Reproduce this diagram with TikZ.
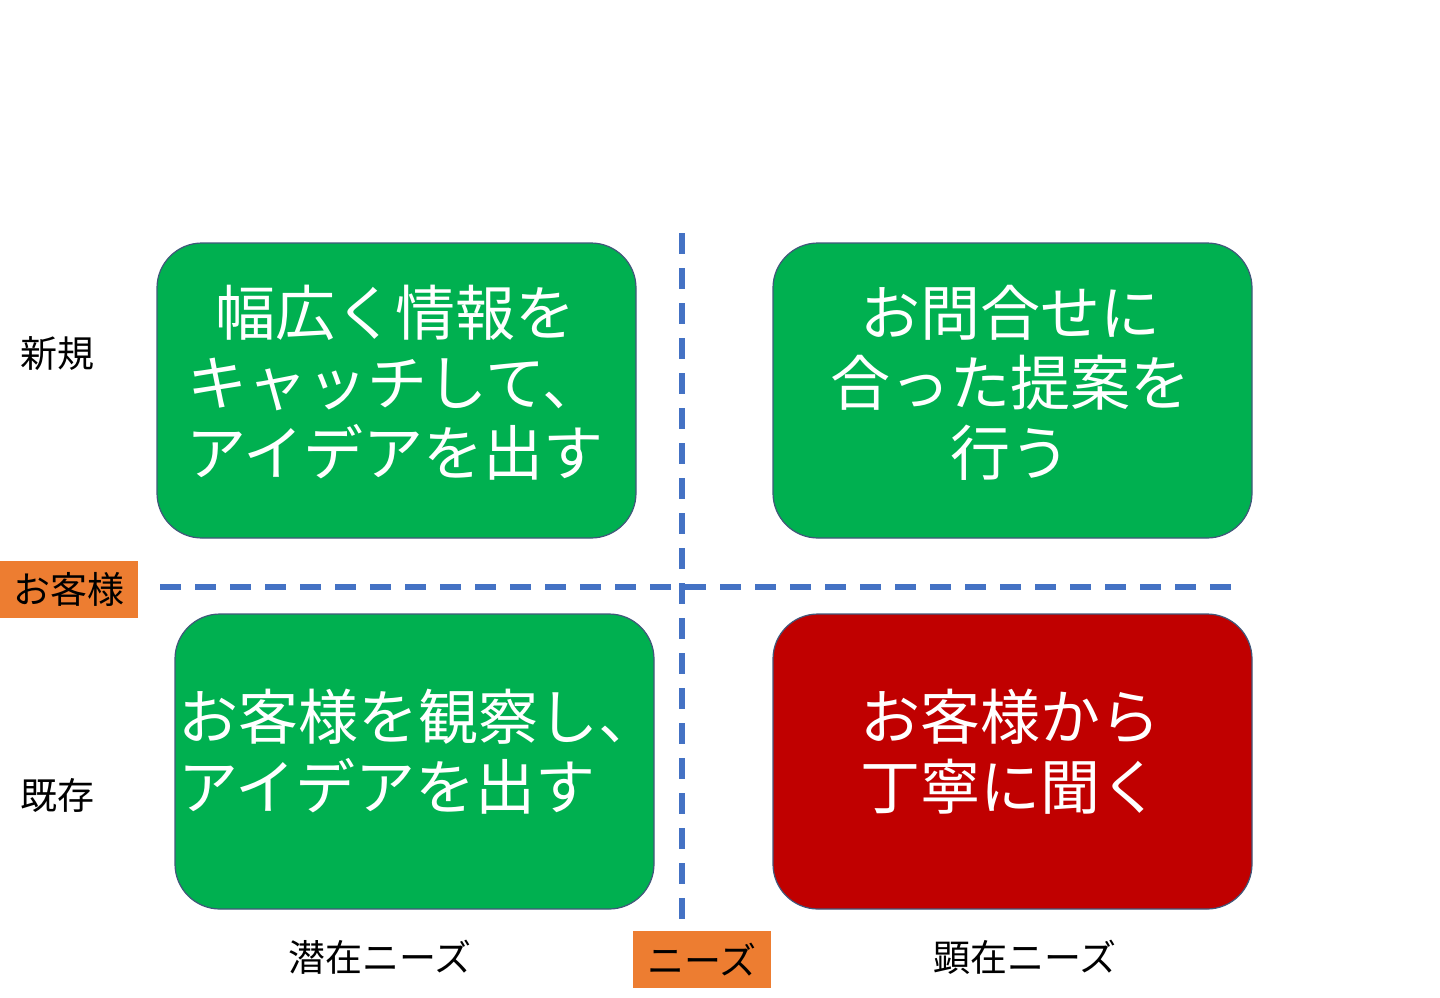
\documentclass[tikz,border=0pt]{standalone}
\usepackage{fontspec}
\setmainfont{Noto Sans CJK JP}
\definecolor{boxgreen}{HTML}{00B050}
\definecolor{boxred}{HTML}{C00000}
\definecolor{edgeblue}{HTML}{41577A}
\definecolor{dashblue}{HTML}{4472C4}
\definecolor{tagorange}{HTML}{ED7D31}
\begin{document}
\begin{tikzpicture}[x=1pt,y=-1pt,
  quad/.style={draw=edgeblue,line width=1.2pt,rounded corners=45pt,minimum width=479pt,minimum height=295pt,inner sep=0pt},
  bigtext/.style={text=white,font=\fontsize{60}{70}\selectfont},
  tag/.style={fill=tagorange,inner sep=0pt,minimum width=138pt,minimum height=57pt,font=\fontsize{37}{40}\selectfont},
  axislabel/.style={font=\fontsize{37}{40}\selectfont,inner sep=0pt},
  divider/.style={draw=dashblue,line width=5.5pt,dash pattern=on 21pt off 14pt}]
\useasboundingbox (0,0) rectangle (1440,997);
\fill[white] (0,0) rectangle (1440,997);
% quadrant boxes
\node[quad,fill=boxgreen] (tl) at (396.5,390.5) {};
\node[quad,fill=boxgreen] (tr) at (1012.5,390.5) {};
\node[quad,fill=boxgreen] (bl) at (414.5,761.5) {};
\node[quad,fill=boxred] (br) at (1012.5,761.5) {};
% texts
\node[bigtext,align=center] (tlt) at (395,383) {幅広く情報を\\キャッチして、\\アイデアを出す};
\node[bigtext,align=center] (trt) at (1010,383) {お問合せに\\合った提案を\\行う};
\node[bigtext,align=left,anchor=west] (blt) at (175,752) {お客様を観察し、\\アイデアを出す};
\node[bigtext,align=center] (brt) at (1010,752) {お客様から\\丁寧に聞く};
% dividers
\coordinate (vtop) at (682,233);
\coordinate (vbot) at (682,935);
\coordinate (hleft) at (160,587);
\coordinate (hright) at (1244,587);
\draw[divider] (vtop) -- (vbot);
\draw[divider] (hleft) -- (hright);
% labels
\node[axislabel] (new) at (57,354) {新規};
\node[axislabel] (old) at (57,795) {既存};
\node[axislabel] (latent) at (380,957) {潜在ニーズ};
\node[axislabel] (overt) at (1025,957) {顕在ニーズ};
\node[tag] (cust) at (68.5,589) {お客様};
\node[tag] (needs) at (702,959.5) {ニーズ};
\end{tikzpicture}
\end{document}
